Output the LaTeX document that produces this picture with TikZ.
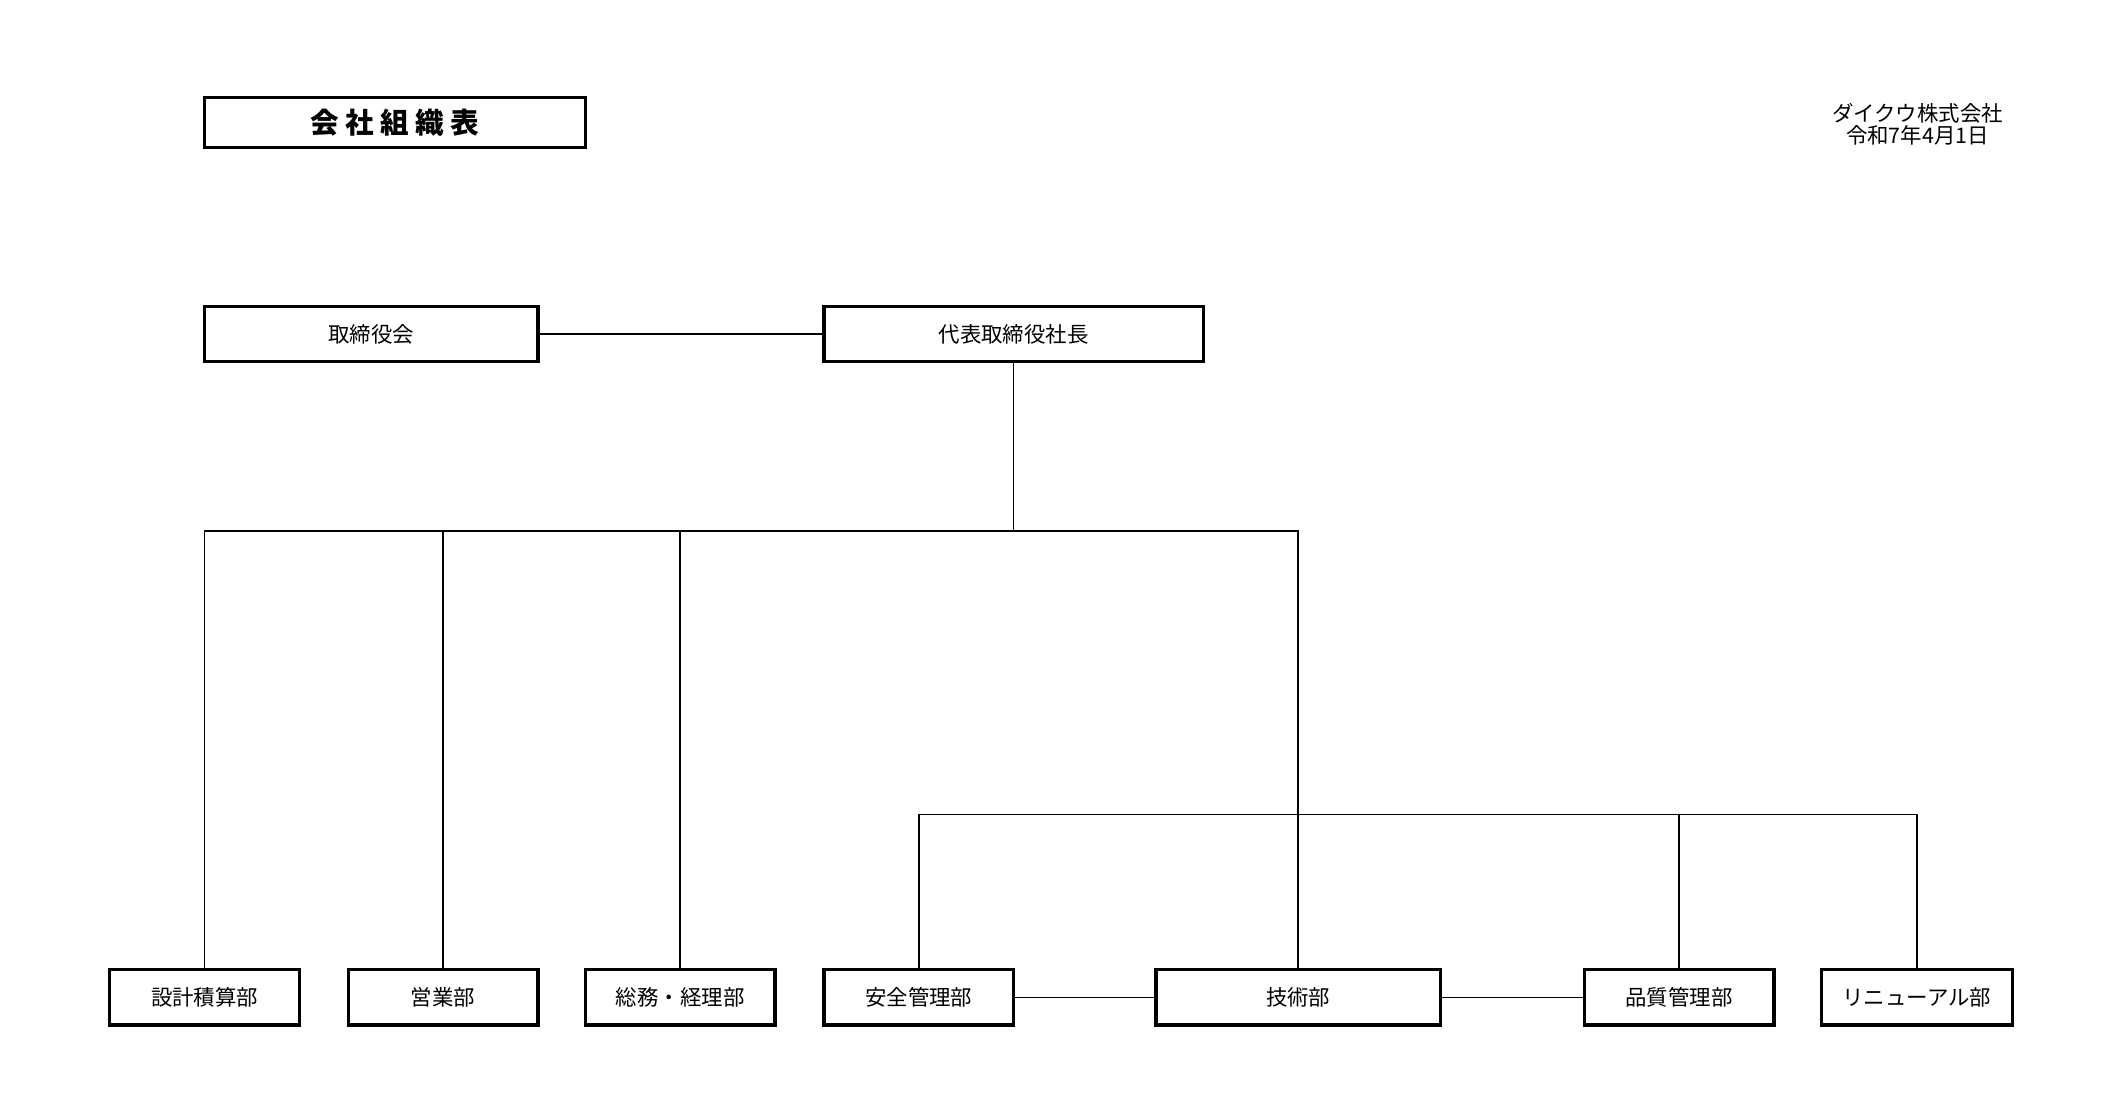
\documentclass[tikz,border=0pt]{standalone}
\usepackage{fontspec}
\setmainfont{Noto Sans CJK JP}
\usetikzlibrary{positioning}

\begin{document}
\begin{tikzpicture}[x=0.02cm, y=-0.02cm,
    box/.style={draw, line width=1.4pt, minimum height=0.82cm, inner sep=0pt, font=\small},
    link/.style={line width=0.7pt}]
  % page frame
  \useasboundingbox (0,0) rectangle (1560,812);

  % title and date
  \node[box, minimum width=5.62cm, minimum height=0.74cm, font=\large\bfseries] (title) at (291.5,90.5) {会\ 社\ 組\ 織\ 表};
  \node[align=center, font=\small, inner sep=0pt, text depth=0pt] (corp) at (1415,91) {ダイクウ株式会社\\[-2pt]令和7年4月1日};

  % top level
  \node[box, minimum width=4.92cm] (board) at (274,246.5) {取締役会};
  \node[box, minimum width=5.6cm] (pres) at (748,246.5) {代表取締役社長};

  % departments
  \node[box, minimum width=2.8cm] (est) at (151,736) {設計積算部};
  \node[box, minimum width=2.8cm] (sales) at (327,736) {営業部};
  \node[box, minimum width=2.8cm] (admin) at (502,736) {総務・経理部};
  \node[box, minimum width=2.8cm] (safety) at (678,736) {安全管理部};
  \node[box, minimum width=4.2cm] (tech) at (958,736) {技術部};
  \node[box, minimum width=2.8cm] (qual) at (1239,736) {品質管理部};
  \node[box, minimum width=2.82cm] (renew) at (1414.5,736) {リニューアル部};

  \coordinate (bus1) at (748,392);
  \coordinate (bus2) at (958,601);

  % connectors
  \draw[link] (board) -- (pres);
  \draw[link] (pres.south) -- (bus1);
  \draw[link] (est.north) |- (bus1);
  \foreach \d in {sales, admin}
    \draw[link] (\d.north) -- (\d.north |- bus1);
  \draw[link] (bus1) -| (tech.north);
  \draw[link] (safety.north) |- (bus2) -| (renew.north);
  \draw[link] (qual.north) -- (qual.north |- bus2);
  \draw[link] (safety) -- (tech);
  \draw[link] (tech) -- (qual);
\end{tikzpicture}
\end{document}
